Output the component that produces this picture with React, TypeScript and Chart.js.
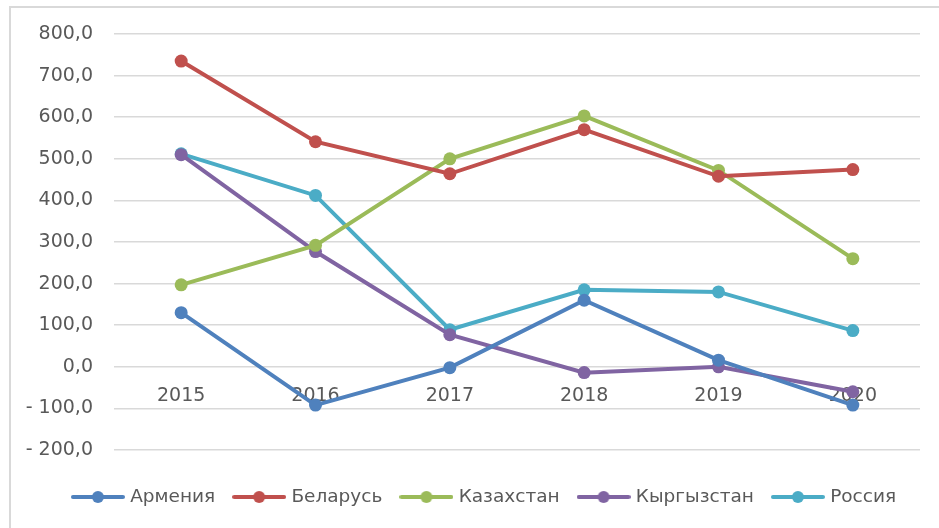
import React, { useEffect, useRef } from "react";
import { Chart, registerables } from "chart.js";

Chart.register(...registerables);

const categories = ["2015", "2016", "2017", "2018", "2019", "2020"];
const armenia = [130, -92, -2, 160, 16, -92];
const belarus = [735, 541, 464, 570, 458, 474];
const kazakhstan = [197, 292, 500, 603, 472, 260];
const kyrgyzstan = [510, 277, 77, -14, 0, -60];
const russia = [512, 412, 89, 185, 180, 87];
const seriesNames = ["Армения", "Беларусь", "Казахстан", "Кыргызстан", "Россия"];
const seriesColors = ["#4F81BD", "#C0504D", "#9BBB59", "#8064A2", "#4BACC6"];
const yMin = -200;
const yMax = 800;
const yStep = 100;

const FONT = "'DejaVu Sans', sans-serif";
const TEXT = "#595959";
const FS = 19;
const LFS = 18.5;

function legendIcon(color: string): HTMLCanvasElement {
  const c = document.createElement("canvas");
  c.width = 54;
  c.height = 14;
  const ctx = c.getContext("2d")!;
  ctx.strokeStyle = color;
  ctx.lineWidth = 4;
  ctx.lineCap = "round";
  ctx.beginPath();
  ctx.moveTo(2, 7);
  ctx.lineTo(52, 7);
  ctx.stroke();
  ctx.fillStyle = color;
  ctx.beginPath();
  ctx.arc(27, 7, 6, 0, Math.PI * 2);
  ctx.fill();
  return c;
}

function fmt(v: number): string {
  const s = Math.abs(v).toFixed(1).replace(".", ",");
  return v < 0 ? "- " + s : s;
}

const legendShift = {
  id: "legendShift",
  afterLayout(chart: any) {
    if (chart.legend) {
      chart.legend.left = 32;
    }
  },
};

export default function App() {
  const ref = useRef<HTMLCanvasElement | null>(null);
  useEffect(() => {
    if (!ref.current) return;
    const values = [armenia, belarus, kazakhstan, kyrgyzstan, russia];
    const icons = seriesColors.map(legendIcon);
    const chart = new Chart(ref.current, {
      type: "line",
      plugins: [legendShift],
      data: {
        labels: categories,
        datasets: values.map((d, i) => ({
          label: seriesNames[i],
          data: d,
          borderColor: seriesColors[i],
          backgroundColor: seriesColors[i],
          borderWidth: 4,
          pointRadius: 6.5,
          pointBorderWidth: 0,
          pointBackgroundColor: seriesColors[i],
          pointStyle: "circle",
          tension: 0,
          fill: false,
          yAxisID: "y",
        })),
      },
      options: {
        responsive: false,
        animation: false,
        layout: { padding: { left: 0, right: 0, top: 34, bottom: 11.75 } },
        plugins: {
          tooltip: { enabled: false },
          legend: {
            position: "bottom",
            title: { display: true, text: "", font: { size: 10 }, padding: { top: 4.75, bottom: 0 } },
            labels: {
              usePointStyle: true,
              pointStyleWidth: 46,
              padding: 21,
              color: TEXT,
              font: { family: FONT, size: LFS },
              generateLabels: (ch: any) =>
                ch.data.datasets.map((ds: any, i: number) => ({
                  text: ds.label,
                  fillStyle: seriesColors[i],
                  strokeStyle: seriesColors[i],
                  lineWidth: 0,
                  pointStyle: icons[i],
                  fontColor: TEXT,
                  hidden: false,
                  datasetIndex: i,
                })),
            },
          },
        },
        scales: {
          x: {
            type: "category",
            position: { y: 0 } as any,
            offset: true,
            grid: { display: false, drawTicks: false },
            border: { display: false },
            ticks: { color: TEXT, font: { family: FONT, size: FS }, padding: 18, maxRotation: 0 },
          },
          y: {
            min: yMin,
            max: yMax,
            afterFit: (s: any) => {
              s.width = 114;
            },
            grid: { color: "#d9d9d9", lineWidth: 1.5, drawTicks: false },
            border: { display: false },
            ticks: {
              stepSize: yStep,
              padding: 21,
              color: TEXT,
              font: { family: FONT, size: FS },
              callback: (v: any) => fmt(Number(v)),
            },
          },
          yRight: {
            type: "linear",
            position: "right",
            min: yMin,
            max: yMax,
            afterFit: (s: any) => {
              s.width = 19;
            },
            grid: { display: false, drawTicks: false },
            border: { display: false },
            ticks: { display: false },
          },
        },
      },
    });
    return () => chart.destroy();
  }, []);
  return (
    <div style={{ position: "absolute", left: 0, top: 0, width: 939, height: 528, background: "#fff", overflow: "hidden" }}>
      <div
        style={{
          position: "absolute",
          left: 9,
          top: 6,
          width: 940,
          height: 530,
          borderTop: "2px solid #d9d9d9",
          borderLeft: "2px solid #d9d9d9",
        }}
      />
      <canvas ref={ref} width={939} height={528} style={{ position: "absolute", left: 0, top: 0, width: 939, height: 528 }} />
    </div>
  );
}
